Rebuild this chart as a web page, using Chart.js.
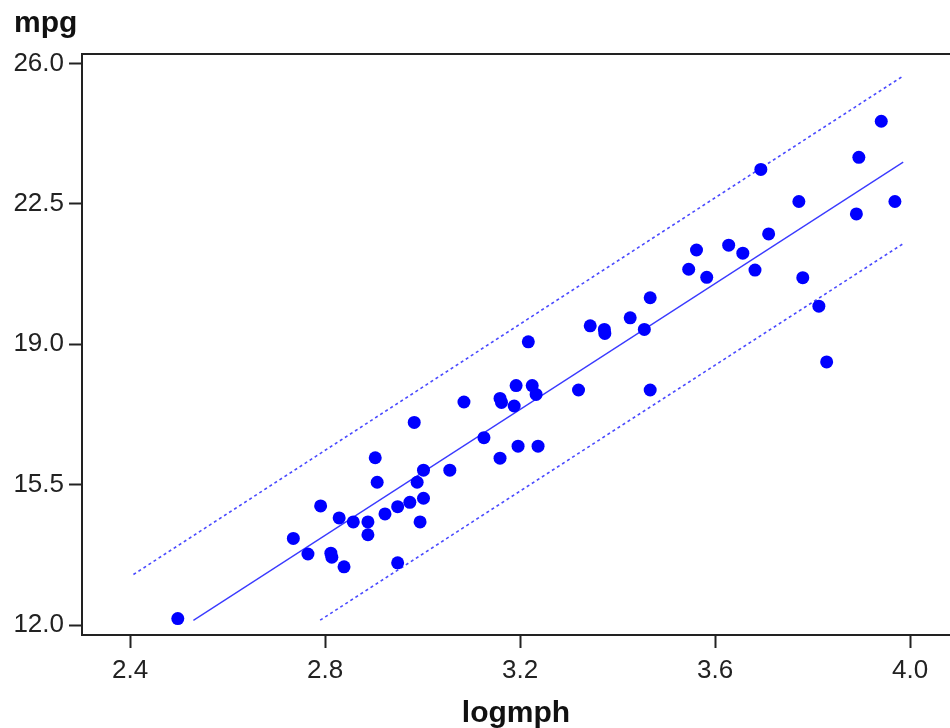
<!DOCTYPE html>
<html>
<head>
<meta charset="utf-8">
<script src="https://cdn.jsdelivr.net/npm/chart.js@4/dist/chart.umd.min.js"></script>
<style>
  html, body { margin: 0; padding: 0; background: #fff; }
  #wrap { width: 950px; height: 728px; }
</style>
</head>
<body>
<div id="wrap"><canvas id="c" width="950" height="728"></canvas></div>
<script>
// ---- data ----
const logmph = [2.498,2.735,2.765,2.791,2.812,2.814,2.839,2.829,2.858,2.888,2.888,2.903,2.907,2.923,2.949,2.949,2.974,2.983,2.989,3.002,3.002,2.995,3.056,3.085,3.126,3.159,3.162,3.159,3.188,3.192,3.196,3.217,3.225,3.233,3.237,3.320,3.344,3.373,3.374,3.426,3.455,3.467,3.467,3.546,3.562,3.583,3.628,3.657,3.682,3.694,3.710,3.772,3.780,3.813,3.829,3.890,3.895,3.941,3.969];
const mpg = [12.16,14.16,13.77,14.97,13.79,13.69,13.45,14.67,14.57,14.57,14.25,16.17,15.56,14.77,14.95,13.55,15.06,17.05,15.56,15.86,15.16,14.57,15.86,17.56,16.67,17.65,17.55,16.16,17.46,17.97,16.46,19.06,17.97,17.75,16.46,17.86,19.46,19.37,19.27,19.66,19.37,20.16,17.86,20.87,21.35,20.67,21.47,21.27,20.85,23.36,21.75,22.56,20.66,19.95,18.56,22.25,23.66,24.56,22.56];

// regression line and prediction limits (end points)
const fitX = [2.530, 3.986];
const fitY = [12.115, 23.54];
const upperX = [2.407, 3.986];
const upperY = [13.26, 25.69];
const lowerX = [2.790, 3.985];
const lowerY = [12.12, 21.50];

const xTicks = [2.4, 2.8, 3.2, 3.6, 4.0];
const yTicks = [12.0, 15.5, 19.0, 22.5, 26.0];
const xTitle = 'logmph';
const yTitle = 'mpg';

const toPts = (xs, ys) => xs.map((x, i) => ({ x: x, y: ys[i] }));

const axisColor = '#222222';
const tickFont = { family: "'Liberation Sans', Arial, sans-serif", size: 26 };

const extras = {
  id: 'extras',
  afterDraw(chart) {
    const ctx = chart.ctx;
    const a = chart.chartArea;
    ctx.save();
    // top frame line
    ctx.strokeStyle = axisColor;
    ctx.lineWidth = 2;
    ctx.beginPath();
    ctx.moveTo(a.left, a.top);
    ctx.lineTo(chart.width, a.top);
    ctx.stroke();
    // y axis title (horizontal, top-left)
    ctx.fillStyle = '#111';
    ctx.font = "bold 30px 'Liberation Sans', Arial, sans-serif";
    ctx.textAlign = 'left';
    ctx.textBaseline = 'alphabetic';
    ctx.fillText(yTitle, 14, 32);
    ctx.restore();
  }
};

new Chart(document.getElementById('c'), {
  type: 'scatter',
  data: {
    datasets: [
      {
        label: 'mpg',
        data: toPts(logmph, mpg),
        backgroundColor: '#0000ff',
        borderColor: '#0000ff',
        pointRadius: 6.5,
        pointBorderWidth: 0,
        showLine: false,
        order: 0
      },
      {
        label: 'fit',
        data: toPts(fitX, fitY),
        showLine: true,
        borderColor: '#3a3aff',
        borderWidth: 1.3,
        pointRadius: 0,
        order: 1
      },
      {
        label: 'upper',
        data: toPts(upperX, upperY),
        showLine: true,
        borderColor: '#4a4aff',
        borderWidth: 1.6,
        borderDash: [3, 3],
        pointRadius: 0,
        order: 1
      },
      {
        label: 'lower',
        data: toPts(lowerX, lowerY),
        showLine: true,
        borderColor: '#4a4aff',
        borderWidth: 1.6,
        borderDash: [3, 3],
        pointRadius: 0,
        order: 1
      }
    ]
  },
  options: {
    responsive: false,
    animation: false,
    devicePixelRatio: 1,
    layout: { autoPadding: false, padding: { top: 54, left: 0, right: 0, bottom: 0 } },
    plugins: {
      legend: { display: false },
      tooltip: { enabled: false },
      title: { display: false }
    },
    scales: {
      x: {
        type: 'linear',
        min: 2.3015,
        max: 4.082,
        afterBuildTicks: s => { s.ticks = xTicks.map(v => ({ value: v })); },
        afterFit: s => { s.height = 93; s.paddingLeft = 0; s.paddingRight = 0; },
        grid: { display: true, drawOnChartArea: false, drawTicks: true, tickLength: 13, tickWidth: 2, tickColor: axisColor },
        border: { display: true, color: axisColor, width: 2 },
        ticks: {
          color: '#222',
          font: tickFont,
          padding: 7,
          maxRotation: 0,
          callback: v => Number(v).toFixed(1)
        },
        title: {
          display: true,
          text: xTitle,
          color: '#111',
          font: { family: "'Liberation Sans', Arial, sans-serif", size: 30, weight: 'bold' },
          padding: { top: 0, bottom: -4 }
        }
      },
      y: {
        type: 'linear',
        min: 11.751,
        max: 26.237,
        afterBuildTicks: s => { s.ticks = yTicks.map(v => ({ value: v })); },
        afterFit: s => { s.width = 82; s.paddingTop = 0; s.paddingBottom = 0; },
        grid: { display: true, drawOnChartArea: false, drawTicks: true, tickLength: 13, tickWidth: 2, tickColor: axisColor },
        border: { display: true, color: axisColor, width: 2 },
        ticks: {
          color: '#222',
          font: tickFont,
          padding: 5,
          callback: v => Number(v).toFixed(1)
        },
        title: { display: false }
      }
    }
  },
  plugins: [extras]
});
</script>
</body>
</html>
